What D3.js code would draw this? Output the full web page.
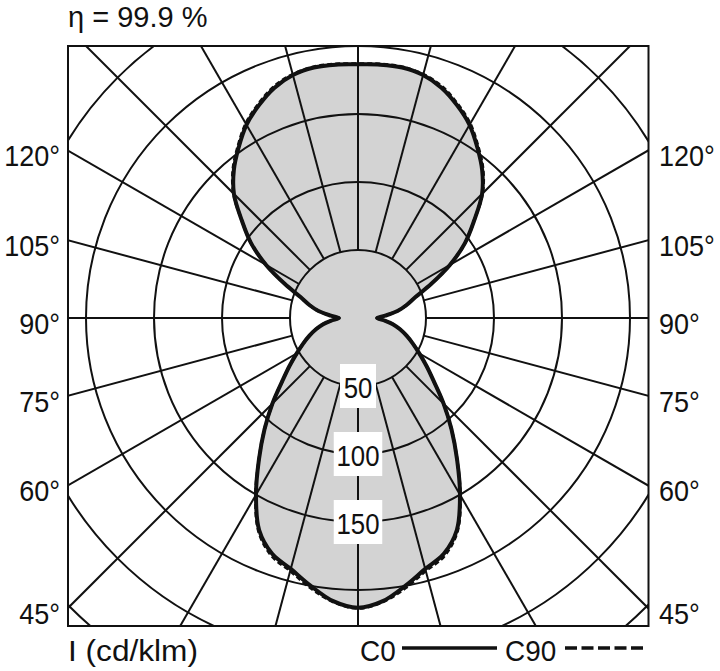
<!DOCTYPE html>
<html>
<head>
<meta charset="utf-8">
<script src="https://cdn.jsdelivr.net/npm/d3@7"></script>
<style>
  body { margin: 0; background: #fff; }
  text { font-family: "Liberation Sans", Arial, sans-serif; fill: #111; }
</style>
</head>
<body>
<div id="chart"></div>
<script>
// gamma angles (0 = straight down, 180 = straight up), every 5 deg
const gammaAngles = d3.range(0, 181, 5);
// intensity in cd/klm
const c0Values = [213, 209, 200, 191, 184.5, 172, 150, 127, 107, 89, 73, 61.5, 52, 44.5, 38, 32, 26, 19,
                  14,
                  20, 29.5, 37, 45, 59.5, 78, 96, 111.5, 129, 142, 153, 164, 172.5, 180, 185, 187, 187, 186.5];
const c90Values = [213.5, 209.5, 201.5, 192.5, 186, 173, 150.5, 127, 107, 89, 73, 61.5, 52, 44.5, 38, 32, 26, 19,
                  14,
                  20, 29.5, 37, 45, 59.5, 78, 96, 111.5, 129.5, 143, 154, 165, 173.5, 181, 185.5, 187.5, 187.5, 187];
const ringValues = [50, 100, 150, 200, 250, 300, 350];
const ringLabels = [50, 100, 150];
const sideAngles = [45, 60, 75, 90, 105, 120];
const radialAngles = d3.range(0, 360, 15);

const width = 720, height = 671;
const svg = d3.select("#chart").append("svg").attr("width", width).attr("height", height);

const frame = {x0: 68, y0: 46, x1: 648.5, y1: 626};
const cx = 358, cy = 318;
const rScale = d3.scaleLinear().domain([0, 50]).range([0, 68]);
const rad = d => d * Math.PI / 180;

svg.append("clipPath").attr("id", "frameClip").append("rect")
  .attr("x", frame.x0).attr("y", frame.y0)
  .attr("width", frame.x1 - frame.x0).attr("height", frame.y1 - frame.y0);

let plot = svg.append("g").attr("clip-path", "url(#frameClip)");
let g = plot.append("g").attr("transform", `translate(${cx},${cy})`);

// closed outline: right side gamma 0..180, then left side back down
function outline(vals) {
  let pts = [];
  gammaAngles.forEach((a, i) => pts.push([Math.PI - rad(a), rScale(vals[i])]));
  for (let i = gammaAngles.length - 2; i > 0; i--) pts.push([Math.PI + rad(gammaAngles[i]), rScale(vals[i])]);
  return pts;
}
const radial = d3.lineRadial().angle(d => d[0]).radius(d => d[1]).curve(d3.curveCatmullRomClosed.alpha(0.5));

// fill
[c90Values, c0Values].forEach(v => {
  g.append("path").attr("d", radial(outline(v))).attr("fill", "#d3d3d3").attr("stroke", "none");
});

// grid circles
g.selectAll("circle.ring").data(ringValues).enter().append("circle")
  .attr("class", "ring").attr("r", d => rScale(d))
  .attr("fill", "none").attr("stroke", "#111").attr("stroke-width", 2);

// radial lines from the 50 ring outwards
g.selectAll("line.spoke").data(radialAngles).enter().append("line")
  .attr("x1", d => rScale(50) * Math.sin(rad(d))).attr("y1", d => rScale(50) * Math.cos(rad(d)))
  .attr("x2", d => rScale(400) * Math.sin(rad(d))).attr("y2", d => rScale(400) * Math.cos(rad(d)))
  .attr("stroke", "#111").attr("stroke-width", 2);

// curves
g.append("path").attr("d", radial(outline(c90Values)))
  .attr("fill", "none").attr("stroke", "#111").attr("stroke-width", 3).attr("stroke-dasharray", "5,3");
g.append("path").attr("d", radial(outline(c0Values)))
  .attr("fill", "none").attr("stroke", "#111").attr("stroke-width", 4).attr("stroke-linejoin", "round");

// frame
svg.append("rect").attr("x", frame.x0).attr("y", frame.y0)
  .attr("width", frame.x1 - frame.x0).attr("height", frame.y1 - frame.y0)
  .attr("fill", "none").attr("stroke", "#111").attr("stroke-width", 2);

// condensed text helper
function label(parent, x, y, txt, anchor, sx) {
  let tg = parent.append("g").attr("transform", `translate(${x},${y}) scale(${sx},1)`);
  tg.append("text").attr("text-anchor", anchor).attr("dy", "0.36em").attr("font-size", 30).text(txt);
  return tg;
}

// ring labels on the vertical axis
ringLabels.forEach(v => {
  let y = cy + rScale(v);
  let lg = svg.append("g");
  let w = String(v).length * 12.5 + 11;
  lg.append("rect").attr("x", cx - w / 2).attr("y", y - 22)
    .attr("width", w).attr("height", 44).attr("fill", "#fff");
  label(lg, cx, y + 1, v, "middle", 0.86);
});

// angle labels on both sides
const halfW = cx - frame.x0;
sideAngles.forEach(a => {
  let y = cy + halfW / Math.tan(rad(a)) + 5;
  label(svg, 60, y, a + "°", "end", 0.9);
  label(svg, 659, y, a + "°", "start", 0.9);
});

svg.append("text").attr("x", 68).attr("y", 27).attr("font-size", 29).text("η = 99.9 %");
svg.append("text").attr("x", 68).attr("y", 661).attr("font-size", 29)
  .attr("textLength", 130).attr("lengthAdjust", "spacingAndGlyphs").text("I (cd/klm)");

// legend
label(svg, 360, 650, "C0", "start", 0.93);
svg.append("line").attr("x1", 402).attr("x2", 497).attr("y1", 648).attr("y2", 648)
  .attr("stroke", "#111").attr("stroke-width", 3.5);
label(svg, 505, 650, "C90", "start", 0.93);
svg.append("line").attr("x1", 565).attr("x2", 643).attr("y1", 648).attr("y2", 648)
  .attr("stroke", "#111").attr("stroke-width", 3.5).attr("stroke-dasharray", "12,4.5");
</script>
</body>
</html>
